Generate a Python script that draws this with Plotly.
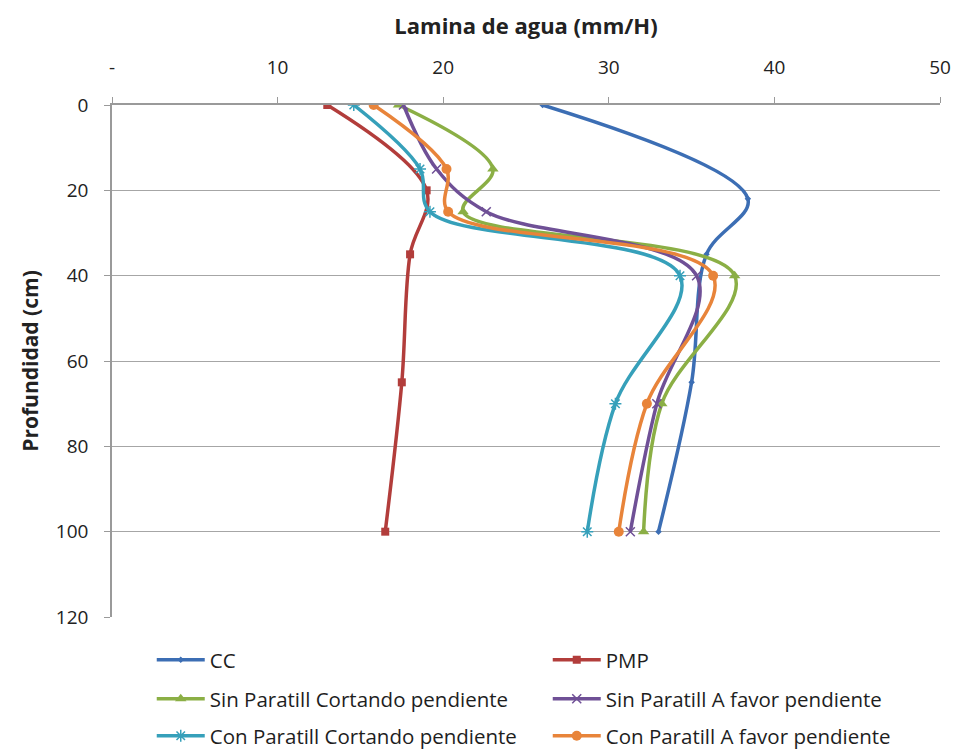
import plotly.graph_objects as go

# Depths (cm) for the reference curves and for the tillage treatments
depth_ref = [0, 22, 35, 65, 100]
depth_pmp = [0, 20, 35, 65, 100]
depth_trt = [0, 15, 25, 40, 70, 100]

cc = [26.0, 38.4, 35.9, 35.0, 33.0]
pmp = [13.0, 19.0, 18.0, 17.5, 16.5]
sin_cortando = [17.3, 23.0, 21.2, 37.6, 33.2, 32.1]
sin_favor = [17.6, 19.6, 22.6, 35.3, 32.9, 31.3]
con_cortando = [14.6, 18.6, 19.2, 34.3, 30.4, 28.7]
con_favor = [15.8, 20.2, 20.3, 36.3, 32.3, 30.6]

x_tickvals = [0, 10, 20, 30, 40, 50]
x_ticktext = ["-", "10", "20", "30", "40", "50"]
y_tickvals = [0, 20, 40, 60, 80, 100, 120]

# name, x values, depths, colour, marker, legend row
series = [
    ("CC", cc, depth_ref, "#3C6EB4", dict(symbol="diamond", size=5), "legend"),
    ("PMP", pmp, depth_pmp, "#B23D3B", dict(symbol="square", size=8), "legend"),
    ("Sin Paratill Cortando pendiente", sin_cortando, depth_trt, "#8BAF45",
     dict(symbol="triangle-up", size=10), "legend2"),
    ("Sin Paratill A favor pendiente", sin_favor, depth_trt, "#6F5096",
     dict(symbol="x-thin-open", size=9, line=dict(width=1.5, color="#8F78B4")), "legend2"),
    ("Con Paratill Cortando pendiente", con_cortando, depth_trt, "#36A0BA",
     dict(symbol="asterisk-open", size=10, line=dict(width=1.5, color="#5BB6CF")), "legend3"),
    ("Con Paratill A favor pendiente", con_favor, depth_trt, "#E8843A",
     dict(symbol="circle", size=10), "legend3"),
]

fig = go.Figure()
for name, xs, ys, color, marker, leg in series:
    marker = dict(marker)
    marker.setdefault("color", color)
    fig.add_trace(go.Scatter(
        x=xs, y=ys, name=name, mode="lines+markers", legend=leg,
        line=dict(color=color, width=3.5, shape="spline", smoothing=1.0),
        marker=marker,
    ))

font_family = "Open Sans, Lato, sans-serif"

# plot area spans 112..940 px horizontally and 105..617 px vertically
plot_h = 512.0


def legend_row(center_px):
    return dict(
        orientation="h", x=0.048, xanchor="left",
        y=-(center_px - 617) / plot_h, yanchor="middle",
        entrywidth=333, entrywidthmode="pixels",
        font=dict(family=font_family, size=20.5, color="#1E1E1E"),
        itemwidth=48, bgcolor="rgba(0,0,0,0)", borderwidth=0,
    )


fig.update_layout(
    width=956, height=753,
    margin=dict(l=112, r=16, t=105, b=136, autoexpand=False),
    paper_bgcolor="white", plot_bgcolor="white",
    font=dict(family=font_family, size=18, color="#222222"),
    showlegend=True,
    legend=legend_row(660),
    legend2=legend_row(699),
    legend3=legend_row(736),
    xaxis=dict(
        side="top", range=[0, 50],
        tickvals=x_tickvals, ticktext=x_ticktext,
        showgrid=False, zeroline=False,
        showline=True, linecolor="#9A9A9A", linewidth=1.5,
        ticks="outside", ticklen=6, tickcolor="#9A9A9A",
        ticklabelstandoff=16,
        tickfont=dict(size=19),
        title=dict(text="<b>Lamina de agua (mm/H)</b>", font=dict(size=22), standoff=13),
    ),
    yaxis=dict(
        range=[120, 0], tickvals=y_tickvals,
        showgrid=True, gridcolor="#A6A6A6", gridwidth=1.2,
        zeroline=False,
        showline=True, linecolor="#9A9A9A", linewidth=1.5,
        ticks="outside", ticklen=6, tickcolor="#9A9A9A",
        ticklabelstandoff=12,
        tickfont=dict(size=19),
        title=dict(text="<b>Profundidad (cm)</b>", font=dict(size=21), standoff=12),
    ),
)

fig.write_html("out.html")
